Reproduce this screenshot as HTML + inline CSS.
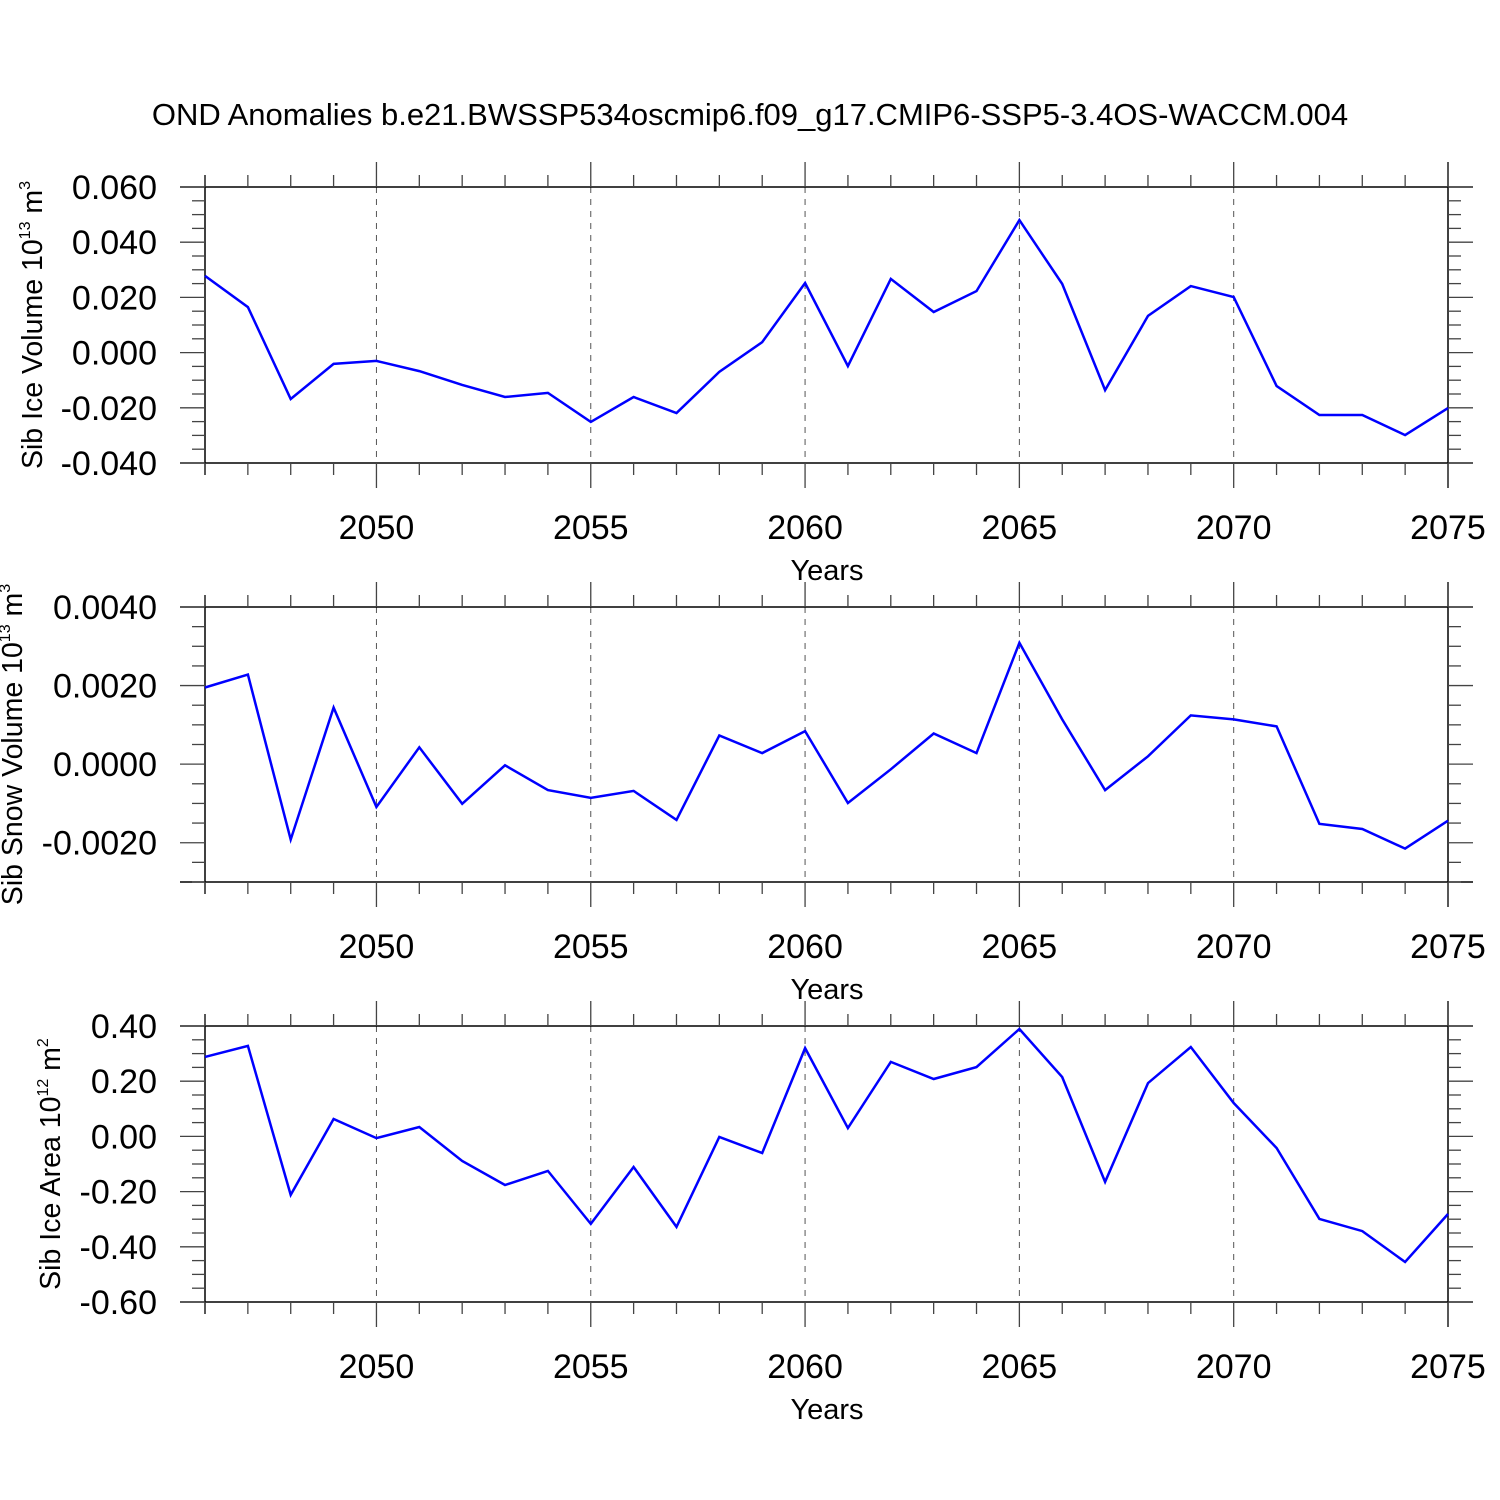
<!DOCTYPE html>
<html><head><meta charset="utf-8"><style>
html,body{margin:0;padding:0;background:#fff}
svg{display:block;font-family:"Liberation Sans",Arial,sans-serif}
</style></head><body>
<svg id="chart" width="1500" height="1500" viewBox="0 0 1500 1500" xmlns="http://www.w3.org/2000/svg">
<text x="750" y="125" font-size="31" text-anchor="middle">OND Anomalies b.e21.BWSSP534oscmip6.f09_g17.CMIP6-SSP5-3.4OS-WACCM.004</text>
</svg>
<script>
const years = [2046,2047,2048,2049,2050,2051,2052,2053,2054,2055,2056,2057,2058,2059,2060,2061,2062,2063,2064,2065,2066,2067,2068,2069,2070,2071,2072,2073,2074,2075];
const iceVolume = [0.0278,0.0165,-0.0168,-0.0041,-0.003,-0.0067,-0.0117,-0.0161,-0.0146,-0.0251,-0.0161,-0.0219,-0.007,0.0038,0.0252,-0.0049,0.0267,0.0147,0.0223,0.048,0.0249,-0.0136,0.0133,0.0241,0.0201,-0.0121,-0.0226,-0.0226,-0.0299,-0.0201];
const snowVolume = [0.00195,0.00228,-0.00192,0.00144,-0.00109,0.00043,-0.00101,-0.00003,-0.00066,-0.00086,-0.00068,-0.00142,0.00073,0.00028,0.00084,-0.00099,-0.00013,0.00078,0.00028,0.00309,0.00114,-0.00066,0.0002,0.00124,0.00114,0.00096,-0.00152,-0.00165,-0.00215,-0.00144];
const iceArea = [0.288,0.328,-0.212,0.063,-0.006,0.034,-0.089,-0.176,-0.125,-0.317,-0.111,-0.328,-0.002,-0.06,0.32,0.03,0.27,0.208,0.251,0.389,0.215,-0.165,0.193,0.324,0.121,-0.042,-0.299,-0.343,-0.455,-0.281];
const xTickLabels = [2050,2055,2060,2065,2070,2075];
const iceVolumeTicks = ["0.060","0.040","0.020","0.000","-0.020","-0.040"];
const snowVolumeTicks = ["0.0040","0.0020","0.0000","-0.0020"];
const iceAreaTicks = ["0.40","0.20","0.00","-0.20","-0.40","-0.60"];

const NS="http://www.w3.org/2000/svg";
const svg=document.getElementById('chart');
function mk(tag,attrs,parent){const e=document.createElementNS(NS,tag);for(const k in attrs)e.setAttribute(k,attrs[k]);(parent||svg).appendChild(e);return e;}
const X0=205,X1=1448,Y0=2046,Y1=2075;
const xs=y=>X0+(y-Y0)*(X1-X0)/(Y1-Y0);

function panel(name,top,bottom,vmax,vmin,majorStep,minorStep,tickLabels,data,titleX,titleMain,sup,unit,unitSup){
  const g=mk('g',{});
  
  
  const ys=v=>top+(vmax-v)*(bottom-top)/(vmax-vmin);
  xTickLabels.forEach(yr=>{ if(yr>Y0&&yr<Y1){const l=mk('line',{x1:xs(yr),x2:xs(yr),y1:top,y2:bottom,stroke:'#555','stroke-width':1,'stroke-dasharray':'6,6'},g);
    
    }});
  mk('line',{x1:180,x2:1473,y1:top,y2:top,stroke:'#000','stroke-width':1.5},g);
  mk('line',{x1:180,x2:1473,y1:bottom,y2:bottom,stroke:'#000','stroke-width':1.5},g);
  mk('line',{x1:X0,x2:X0,y1:top-12,y2:bottom+12,stroke:'#000','stroke-width':1.5},g);
  mk('line',{x1:X1,x2:X1,y1:top-25,y2:bottom+25,stroke:'#000','stroke-width':1.5},g);
  years.forEach(yr=>{const x=xs(yr);const major=xTickLabels.includes(yr);const L=major?25:12;
    mk('line',{x1:x,x2:x,y1:top-L,y2:top,stroke:'#444','stroke-width':1.3},g);
    mk('line',{x1:x,x2:x,y1:bottom,y2:bottom+L,stroke:'#444','stroke-width':1.3},g);});
  xTickLabels.forEach(yr=>{const t=mk('text',{x:xs(yr),y:bottom+76,'font-size':34,'text-anchor':'middle'},g);t.textContent=yr;
    
    });
  const xt=mk('text',{x:827,y:bottom+117,'font-size':29,'text-anchor':'middle'},g);xt.textContent='Years';
  
  
  const nMinor=Math.round((vmax-vmin)/minorStep);
  for(let i=0;i<=nMinor;i++){const v=vmax-i*minorStep;const y=ys(v);const major=Math.abs(Math.round((vmax-v)/majorStep)*majorStep-(vmax-v))<minorStep/10;const L=major?25:13;
    mk('line',{x1:X0-L,x2:X0,y1:y,y2:y,stroke:'#444','stroke-width':1.3},g);
    mk('line',{x1:X1,x2:X1+L,y1:y,y2:y,stroke:'#444','stroke-width':1.3},g);}
  tickLabels.forEach(lbl=>{const v=parseFloat(lbl);const t=mk('text',{x:157,y:ys(v)+12,'font-size':34,'text-anchor':'end'},g);t.textContent=lbl;
    
    });
  const cy=(top+bottom)/2;
  const yt=mk('text',{x:titleX,y:cy,'font-size':28.5,'text-anchor':'middle',transform:`rotate(-90 ${titleX} ${cy})`},g);
  
  
  const a=mk('tspan',{},yt);a.textContent=titleMain;
  const b=mk('tspan',{'font-size':16,dy:-12},yt);b.textContent=sup;
  const c=mk('tspan',{dy:12},yt);c.textContent=' '+unit;
  const d=mk('tspan',{'font-size':16,dy:-12},yt);d.textContent=unitSup;
  const pts=data.map((v,i)=>xs(years[i]).toFixed(1)+','+ys(v).toFixed(1)).join(' ');
  const pl=mk('polyline',{points:pts,fill:'none',stroke:'#0000ff','stroke-width':2.5,'stroke-linejoin':'miter'},g);
  
  
}
panel('ice-volume',187,463,0.06,-0.04,0.02,0.005,iceVolumeTicks,iceVolume,42,'Sib Ice Volume 10','13','m','3');
panel('snow-volume',607,882,0.004,-0.003,0.002,0.0005,snowVolumeTicks,snowVolume,22,'Sib Snow Volume 10','13','m','3');
panel('ice-area',1026,1302,0.4,-0.6,0.2,0.05,iceAreaTicks,iceArea,60,'Sib Ice Area 10','12','m','2');
</script>
</body></html>
